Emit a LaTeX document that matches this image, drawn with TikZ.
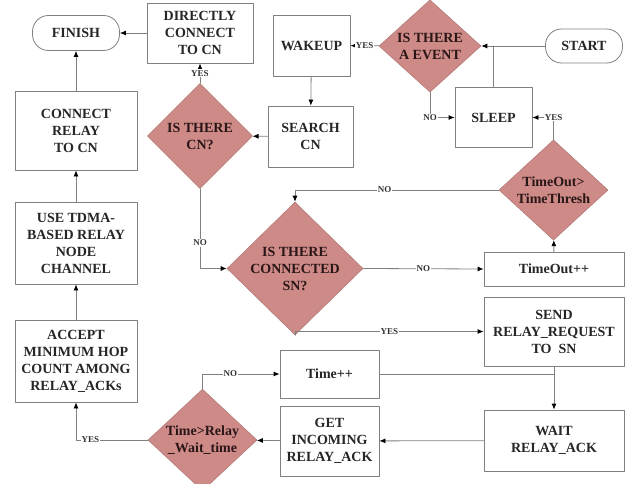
\documentclass[tikz,border=0pt]{standalone}
\usepackage{fontspec}
\setmainfont{Liberation Serif}
\usetikzlibrary{shapes.geometric,arrows.meta}
\definecolor{dfill}{HTML}{CD8A87}
\definecolor{ddraw}{HTML}{B47C7A}
\definecolor{lgray}{HTML}{808080}
\definecolor{dtext}{HTML}{2A1616}
\begin{document}
\begin{tikzpicture}[x=1pt, y=-1pt, line cap=round, line join=round, >={Latex[length=6pt,width=5pt,color=black]},
		font=\fontsize{14}{17}\selectfont\bfseries]
			\tikzset{box/.style={draw=lgray, line width=0.8pt, fill=white, align=center, text=black!85, inner sep=0pt},
				term/.style={box, rounded corners=16pt},
				ask/.style={diamond, draw=ddraw, line width=0.6pt, fill=dfill, align=center, text=dtext, inner sep=0pt},
				flow/.style={draw=lgray, line width=0.8pt},
				tag/.style={font=\fontsize{9}{10}\selectfont\bfseries, fill=white, inner sep=0.8pt, text=black!80}}
			\useasboundingbox (0,0) rectangle (626,484);
			\node[term, minimum width=87pt, minimum height=35pt] (finish) at (76,33) {FINISH};
			\node[box, minimum width=106pt, minimum height=60pt] (direct) at (200,33) {DIRECTLY\\CONNECT\\TO CN};
			\node[box, minimum width=77pt, minimum height=61pt] (wakeup) at (311.5,45.5) {WAKEUP};
			\node[ask, minimum width=102pt, minimum height=86pt] (event) at (430,46) {IS THERE\\A EVENT};
			\node[term, minimum width=77pt, minimum height=34pt] (start) at (584,46) {START};
			\node[box, minimum width=77pt, minimum height=60pt] (sleep) at (493.5,117.5) {SLEEP};
			\node[box, minimum width=85pt, minimum height=61pt] (search) at (310.5,136.5) {SEARCH\\CN};
			\node[ask, minimum width=105pt, minimum height=105pt] (cn) at (200,136) {IS THERE\\CN?};
			\node[box, minimum width=122pt, minimum height=79pt] (connect) at (76,130.5) {CONNECT\\RELAY\\TO CN};
			\node[box, minimum width=122pt, minimum height=82pt] (tdma) at (76,243) {USE TDMA-\\BASED RELAY\\NODE\\CHANNEL};
			\node[box, minimum width=122pt, minimum height=82pt] (accept) at (76,361) {ACCEPT\\MINIMUM HOP\\COUNT AMONG\\RELAY\_ACKs};
			\node[ask, minimum width=136pt, minimum height=117pt] (sn) at (295,268.5) {IS THERE\\CONNECTED\\SN?};
			\node[ask, minimum width=109pt, minimum height=86pt] (thresh) at (553.5,190) {TimeOut>\\TimeThresh};
			\node[box, minimum width=140pt, minimum height=34pt] (timeout) at (554,269) {TimeOut++};
			\node[box, minimum width=140pt, minimum height=69pt] (send) at (554,331.5) {SEND\\RELAY\_REQUEST\\TO\ \ SN};
			\node[box, minimum width=140pt, minimum height=61pt] (wait) at (554,440.5) {WAIT\\RELAY\_ACK};
			\node[box, minimum width=99pt, minimum height=48pt] (timepp) at (329.5,374) {Time++};
			\node[box, minimum width=99pt, minimum height=70pt] (getack) at (329.5,441) {GET\\INCOMING\\RELAY\_ACK};
			\node[ask, minimum width=109pt, minimum height=86pt] (waittime) at (202.5,440) {Time>Relay\\\_Wait\_time};
			\draw[flow, ->] (start) -- (event);
			\draw[flow] (sleep.north) -- (sleep.north |- start.west);
			\draw[flow, ->] (event.south) |- node[tag, pos=0.5]{NO} (sleep.west);
			\draw[flow, ->] (event) -- node[tag]{YES} (wakeup);
			\draw[flow, ->] (wakeup) -- (search);
			\draw[flow, ->] (search) -- (cn);
			\draw[flow, ->] (cn) -- node[tag]{YES} (direct);
			\draw[flow, ->] (direct) -- (finish);
			\draw[flow, ->] (connect) -- (finish);
			\draw[flow, ->] (tdma) -- (connect);
			\draw[flow, ->] (accept) -- (tdma);
			\draw[flow, ->] (cn.south) |- node[tag, pos=0.34]{NO} (sn.west);
			\draw[flow, ->] (thresh.west) -| node[tag, pos=0.28]{NO} (sn.north);
			\draw[flow, ->] (thresh.north) |- node[tag, pos=0.5]{YES} (sleep.east);
			\draw[flow, ->] (sn.east) -- node[tag]{NO} (timeout.west);
			\draw[flow, ->] (timeout) -- (thresh);
			\draw[flow, ->] (sn.south) |- node[tag, pos=0.75]{YES} (send.west);
			\draw[flow, ->] (send) -- (wait);
			\draw[flow] (timepp.east) -- (timepp.east -| wait.north);
			\draw[flow, ->] (wait) -- (getack);
			\draw[flow, ->] (getack) -- (waittime);
			\draw[flow, ->] (waittime.north) |- node[tag, pos=0.68]{NO} (timepp.west);
			\draw[flow, ->] (waittime.west) -| node[tag, pos=0.4]{YES} (accept.south);
		\end{tikzpicture}
\end{document}
